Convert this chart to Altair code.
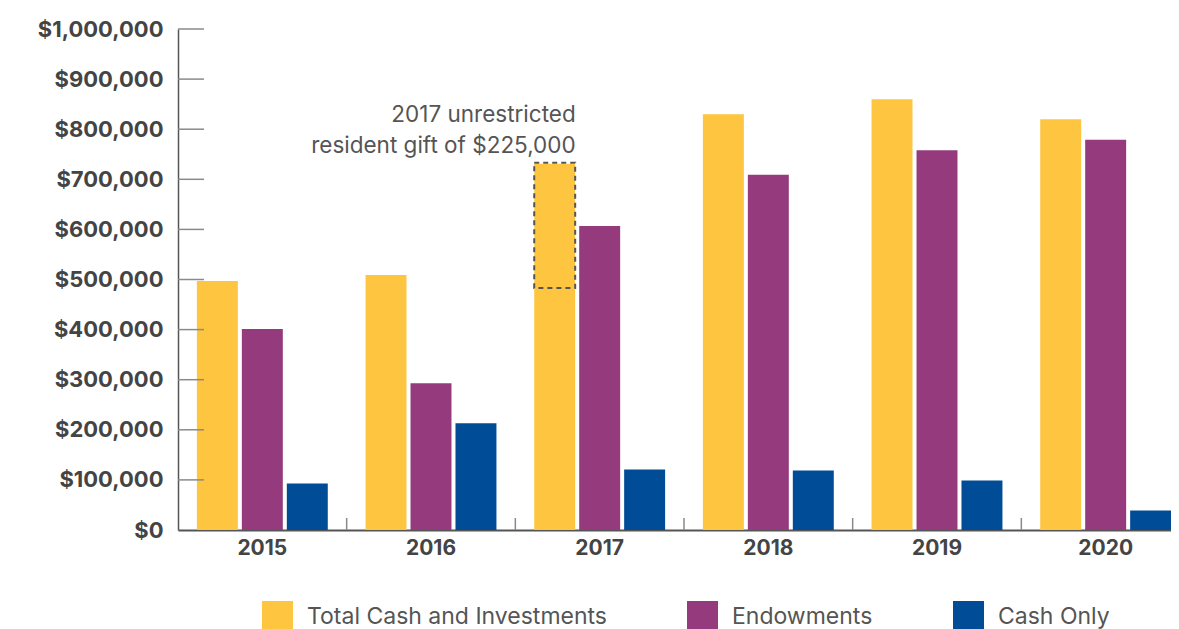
import altair as alt
import pandas as pd

years = ["2015", "2016", "2017", "2018", "2019", "2020"]
series = ["Total Cash and Investments", "Endowments", "Cash Only"]
total = [497000, 509000, 731000, 830000, 860000, 820000]
endow = [401000, 293000, 607000, 709000, 758000, 779000]
cash = [93000, 213000, 121000, 119000, 99000, 39000]
colors = ["#FEC640", "#943A7D", "#004C97"]
y_ticks = [0, 100000, 200000, 300000, 400000, 500000, 600000, 700000, 800000, 900000, 1000000]
note_lines = ["2017 unrestricted", "resident gift of $225,000"]
gift_year = "2017"
gift_top = 733000
gift_bottom = 483000
note_value = 815000

FONT = "Inter"

rows = []
for i, yr in enumerate(years):
    for s, vals in zip(series, [total, endow, cash]):
        rows.append({"year": yr, "series": s, "value": vals[i]})
df = pd.DataFrame(rows)

x_enc = alt.X(
    "year:N",
    sort=years,
    scale=alt.Scale(domain=years, range=[0, 1012], paddingInner=0, paddingOuter=0),
    axis=alt.Axis(
        title=None, labelAngle=0, ticks=False, tickSize=0, grid=False,
        domainColor="#555555", domainWidth=2,
        labelFont=FONT, labelFontSize=21, labelFontWeight="bold",
        labelColor="#444444", labelPadding=7,
    ),
)
xo_enc = alt.XOffset(
    "series:N", sort=series,
    scale=alt.Scale(domain=series, paddingInner=0.089, paddingOuter=0.42),
)
y_enc = alt.Y(
    "value:Q",
    scale=alt.Scale(domain=[0, 1000000], nice=False),
    axis=alt.Axis(
        title=None, values=y_ticks, format="$,.0f", ticks=False, tickSize=0,
        grid=False, domainColor="#555555", domainWidth=1.5,
        labelFont=FONT, labelFontSize=22, labelFontWeight="bold",
        labelColor="#444444", labelPadding=15,
    ),
)

bars = alt.Chart(df).mark_bar().encode(
    x=x_enc,
    xOffset=xo_enc,
    y=y_enc,
    color=alt.Color(
        "series:N", sort=series,
        scale=alt.Scale(domain=series, range=colors),
        legend=alt.Legend(
            title=None, orient="none", legendX=84, legendY=572,
            direction="horizontal", symbolType="square", symbolSize=961,
            symbolStrokeWidth=0, labelFont=FONT, labelFontSize=23,
            labelColor="#555555", labelOffset=14, columnPadding=80,
            padding=0, labelLimit=500,
        ),
    ),
)

gift_df = pd.DataFrame({"year": [gift_year], "series": [series[0]],
                        "value": [gift_top], "bottom": [gift_bottom]})
gift = alt.Chart(gift_df).mark_bar(
    fillOpacity=0, stroke="#555555", strokeDash=[5, 4], strokeWidth=2
).encode(
    x=alt.X("year:N", sort=years),
    xOffset=alt.XOffset("series:N", sort=series),
    y=alt.Y("value:Q"),
    y2="bottom:Q",
)

yt_df = pd.DataFrame({"value": y_ticks[1:]})
ytick = alt.Chart(yt_df).mark_rule(color="#8a8a8a", strokeWidth=1.5).encode(
    y=alt.Y("value:Q"), x=alt.value(0), x2=alt.value(26)
)

xt_df = pd.DataFrame({"year": years[1:]})
xtick = alt.Chart(xt_df).mark_rule(color="#8a8a8a", strokeWidth=1.5).encode(
    x=alt.X("year:N", sort=years, bandPosition=0), y=alt.value(489), y2=alt.value(501)
)

note_df = pd.DataFrame({"year": [gift_year], "series": [series[0]], "value": [note_value]})
note = alt.Chart(note_df).mark_text(
    text=note_lines, align="right", baseline="alphabetic", dx=21, lineHeight=31,
    fontSize=22.5, font=FONT, color="#555555",
).encode(
    x=alt.X("year:N", sort=years),
    xOffset=alt.XOffset("series:N", sort=series),
    y=alt.Y("value:Q"),
)

chart = alt.layer(bars, gift, ytick, xtick, note).properties(
    width=993, height=501,
    background="white",
    autosize=alt.AutoSizeParams(type="none"),
    padding={"left": 170, "top": 21, "right": 0, "bottom": 99},
).configure_view(stroke=None)

chart.save("out.html", embed_options={"renderer": "svg", "actions": False})
